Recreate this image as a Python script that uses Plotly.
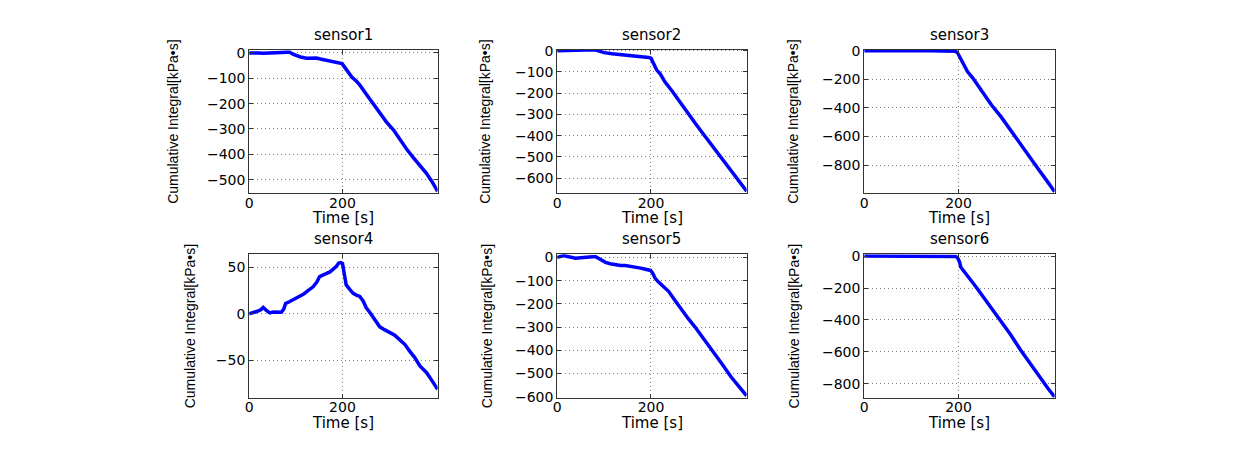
import plotly.graph_objects as go

# ---------------- data ----------------
sensor_names = ["sensor1", "sensor2", "sensor3", "sensor4", "sensor5", "sensor6"]

t1 = [0, 10, 20, 30, 40, 50, 60, 70, 80, 87, 95, 103, 110, 123, 135, 144, 155, 165, 173, 183,
      193, 199, 203, 208, 212, 220, 230, 237, 250, 266, 280, 294, 310, 323, 337, 351, 365, 380, 392, 404]
v1 = [0, 1, 0, -1, -1, -1, 0, 2, 3, 3, -6, -12, -16, -21, -20, -20, -25, -29, -32, -35,
      -38, -42, -52, -66, -78, -95, -112, -126, -160, -202, -235, -272, -305, -342, -378, -411, -443, -475, -508, -546]

t2 = [0, 10, 20, 30, 40, 50, 60, 70, 80, 90, 100, 117, 130, 140, 150, 160, 170, 180, 190, 195,
      200, 203, 206, 212, 220, 230, 245, 259, 275, 294, 310, 330, 350, 371, 388, 404]
v2 = [0, 1, 0, -1, 0, 1, 3, 4, 4, -2, -9, -14, -17, -18, -18, -21, -24, -26, -29, -32,
      -35, -50, -70, -90, -110, -148, -190, -235, -285, -341, -388, -447, -505, -569, -615, -662]

t3 = [0, 20, 40, 60, 80, 100, 120, 140, 160, 180, 190, 194, 198, 202, 205, 210, 219, 230, 240,
      254, 270, 290, 310, 331, 350, 370, 390, 404]
v3 = [0, 1, 0, 0, 2, 1, 0, -1, -2, -2, -3, -5, -15, -40, -68, -95, -146, -190, -237,
      -304, -380, -461, -555, -653, -740, -830, -920, -985]

t4 = [0, 8, 16, 24, 30, 36, 44, 52, 59, 69, 74, 78, 86, 94, 105, 116, 126, 137, 145, 151, 160,
      173, 180, 187, 192, 196, 200, 203, 208, 216, 223, 230, 237, 244, 251, 258, 266, 273, 280,
      290, 301, 312, 323, 334, 344, 355, 366, 373, 380, 387, 394, 400, 404]
v4 = [0, 1, 2.5, 4, 6.9, 4, 1, 2, 1.5, 1.7, 5, 11, 13, 15, 18, 21, 25, 29, 34, 40, 42,
      45, 48, 51, 54.5, 55, 54, 45, 31, 26, 22, 20, 18.7, 14, 6.5, 2, -4, -9, -14,
      -17, -19.5, -23, -28, -33, -40, -47, -56, -59, -63, -68, -73, -77, -81]

t5 = [0, 7, 14, 22, 30, 39, 50, 60, 67, 75, 82, 92, 103, 113, 124, 135, 145, 156, 167, 178,
      188, 195, 199, 203, 206, 209, 215, 222, 230, 238, 252, 266, 280, 294, 312, 330, 350, 371, 388, 404]
v5 = [0, 5, 8, 4, 0, -3, -1, 2, 3, 3, 3, -10, -21, -27, -32, -35, -35, -38, -42, -46,
      -51, -54, -56, -66, -78, -90, -104, -118, -132, -147, -188, -228, -265, -300, -348, -397, -455, -515, -557, -596]

t6 = [0, 20, 40, 60, 80, 100, 120, 140, 160, 180, 190, 194, 198, 202, 205, 212, 219, 230, 240,
      254, 270, 290, 310, 331, 350, 370, 390, 404]
v6 = [0, 0, 1, 1, 2, 1, 0, -1, -2, -2, -2, -3, -10, -35, -70, -95, -121, -165, -205,
      -262, -325, -404, -490, -585, -665, -750, -830, -882]

x_ticks = [0, 200]
x_tick_labels = ["0", "200"]
y_ticks1 = [-500, -400, -300, -200, -100, 0]
y_ticks2 = [-600, -500, -400, -300, -200, -100, 0]
y_ticks3 = [-800, -600, -400, -200, 0]
y_ticks4 = [-50, 0, 50]
y_ticks5 = [-600, -500, -400, -300, -200, -100, 0]
y_ticks6 = [-800, -600, -400, -200, 0]

x_title = "Time [s]"
y_title = "Cumulative Integral[kPa\u2022s]"

# ---------------- layout geometry (pixels) ----------------
W, H = 1251, 457
col_px = [(246, 435), (555, 745), (863, 1054)]
row_px = [(44, 192), (255, 403)]
y_ranges = [[-553, 13], [-671, 5], [-995, 7], [-90, 64], [-604, 14], [-887, 12]]
y_title_x = [170, 483, 792, 187, 484, 792]

series = [(t1, v1), (t2, v2), (t3, v3), (t4, v4), (t5, v5), (t6, v6)]
y_tick_sets = [y_ticks1, y_ticks2, y_ticks3, y_ticks4, y_ticks5, y_ticks6]

tick_font = dict(family="DejaVu Sans, Arial, sans-serif", size=14, color="black")
title_font = dict(family="DejaVu Sans, Arial, sans-serif", size=15, color="black")
ylab_font = dict(family="Liberation Sans, Arial, sans-serif", size=14, color="black")

fig = go.Figure()
annotations = []
layout = dict(width=W, height=H, margin=dict(l=0, r=0, t=0, b=0),
              paper_bgcolor="white", plot_bgcolor="white", showlegend=False)

for i, (t, v) in enumerate(series):
    r, c = divmod(i, 3)
    n = "" if i == 0 else str(i + 1)
    fig.add_trace(go.Scatter(x=t, y=v, mode="lines",
                             line=dict(color="#0000FF", width=3.5),
                             xaxis="x" + n, yaxis="y" + n, hoverinfo="skip"))
    x0, x1 = col_px[c]
    top, bot = row_px[r]
    xd = [x0 / W, x1 / W]
    yd = [1 - bot / H, 1 - top / H]
    axis_common = dict(showline=True, linecolor="#333333", linewidth=1, mirror="ticks",
                       ticks="inside", ticklen=4, tickcolor="#333333",
                       showgrid=True, gridcolor="#808080", griddash="1px,3px", gridwidth=1,
                       zeroline=False, tickfont=tick_font)
    layout["xaxis" + n] = dict(domain=xd, range=[0, 404], tickvals=x_ticks, ticktext=x_tick_labels,
                               anchor="y" + n, ticklabelstandoff=-3, **axis_common)
    layout["yaxis" + n] = dict(domain=yd, range=y_ranges[i], tickvals=y_tick_sets[i],
                               anchor="x" + n, **axis_common)
    cx = (x0 + x1) / 2 / W
    annotations.append(dict(text=sensor_names[i], x=cx, y=yd[1], xref="paper", yref="paper",
                            xanchor="center", yanchor="middle", yshift=15, showarrow=False,
                            font=title_font))
    annotations.append(dict(text=x_title, x=cx, y=yd[0], xref="paper", yref="paper",
                            xanchor="center", yanchor="middle", yshift=-25, showarrow=False,
                            font=title_font))
    annotations.append(dict(text=y_title, x=y_title_x[i] / W, y=(yd[0] + yd[1]) / 2,
                            xref="paper", yref="paper", xanchor="center", yanchor="middle",
                            textangle=-90, showarrow=False, font=ylab_font))

layout["annotations"] = annotations
fig.update_layout(**layout)
fig.write_html("out.html")
